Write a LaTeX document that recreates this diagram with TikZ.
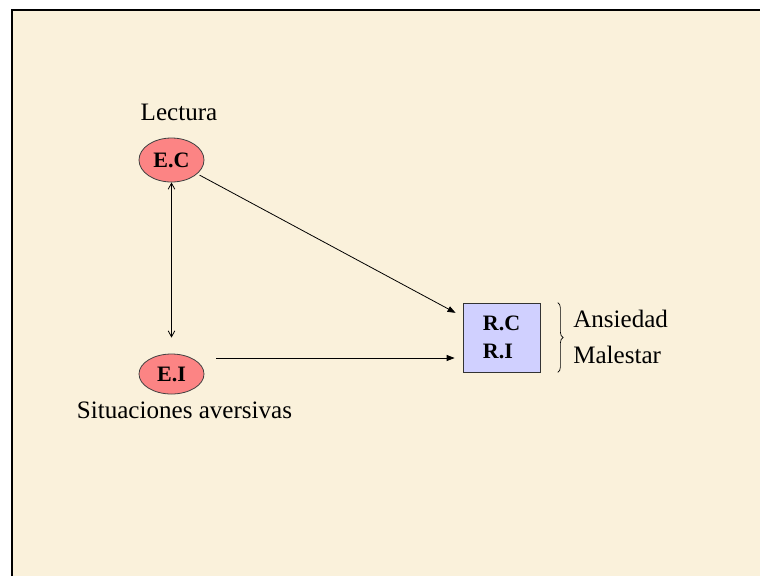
\documentclass[tikz,border=0pt]{standalone}
\usepackage{fontspec}
\setmainfont{Liberation Serif}
\usetikzlibrary{arrows.meta,shapes.geometric,decorations.pathreplacing}

\definecolor{parchment}{RGB}{250,241,219}
\definecolor{stimfill}{RGB}{252,132,132}
\definecolor{respfill}{RGB}{208,208,255}

\tikzset{
  label text/.style={font=\fontsize{18.8}{22}\selectfont, inner sep=0pt},
  stimulus/.style={ellipse, draw=black!75, line width=0.6pt, fill=stimfill,
    inner sep=0pt, minimum width=48.75pt,
    font=\fontsize{16.5}{20}\selectfont\bfseries},
  response/.style={rectangle, draw=black!80, line width=0.6pt, fill=respfill,
    minimum width=57.75pt, minimum height=51.75pt, inner sep=0pt, align=left,
    font=\fontsize{16.5}{21}\selectfont\bfseries},
  link/.style={line width=0.6pt, -{Triangle[length=6pt,width=4.5pt]}},
  pairing/.style={line width=0.6pt, {Straight Barb[length=4.5pt,width=5pt]}-{Straight Barb[length=4.5pt,width=5pt]}}
}

\begin{document}
\begin{tikzpicture}[x=0.75pt,y=-0.75pt]
\useasboundingbox (0,0) rectangle (760,576);
% slide background with its frame
\fill[white] (0,0) rectangle (760,576);
\fill[parchment] (12,10) rectangle (760,576);
\draw[line width=1.6pt] (12,576) -- (12,10) -- (760,10);

% stimuli
\node[stimulus, minimum height=33pt] (EC) at (171.5,160) {E.C};
\node[stimulus, minimum height=30pt] (EI) at (171.5,374) {E.I};
\node[label text, anchor=base] (lect) at (179,120) {Lectura};
\node[label text, anchor=base] (sit) at (184.5,418) {Situaciones aversivas};

% responses
\node[response] (R) at (501.5,337.5) {R.C\\R.I};
\node[label text, anchor=base west] (ans) at (573,327) {Ansiedad};
\node[label text, anchor=base west] (mal) at (573,363) {Malestar};
\draw[line width=0.5pt, decorate, decoration={brace, amplitude=4pt}]
  ([xshift=13]R.north east) -- ([xshift=13]R.south east);

% connections
\draw[pairing, shorten >=12] (EC) -- (EI);
\draw[link, shorten <=2, shorten >=6] (EC) -- (R);
\draw[link] ([shift={(12,-16)}]EI.east) -- ([shift={(-8,20.5)}]R.west);
\end{tikzpicture}
\end{document}
